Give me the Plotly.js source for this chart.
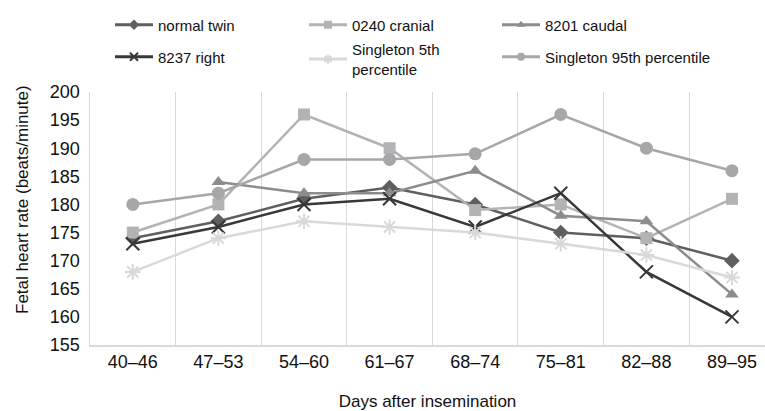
<!DOCTYPE html>
<html>
<head>
<meta charset="utf-8">
<script src="https://cdn.plot.ly/plotly-3.0.1.min.js"></script>
<style>
html,body{margin:0;padding:0;background:#fff;}
#chart{width:765px;height:411px;}
</style>
</head>
<body>
<div id="chart"></div>
<script>
// ---- data ----
const categories = ["40\u201346","47\u201353","54\u201360","61\u201367","68\u201374","75\u201381","82\u201388","89\u201395"];
const normalTwin   = [174, 177, 181, 183, 180, 175, 174, 170];
const cranial0240  = [175, 180, 196, 190, 179, 180, 174, 181];
const caudal8201   = [null, 184, 182, 182, 186, 178, 177, 164];
const right8237    = [173, 176, 180, 181, 176, 182, 168, 160];
const singleton5   = [168, 174, 177, 176, 175, 173, 171, 167];
const singleton95  = [180, 182, 188, 188, 189, 196, 190, 186];
const seriesNames  = ["normal twin", "0240 cranial", "8201 caudal", "8237 right", "Singleton 5th<br>percentile", "Singleton 95th percentile"];
const xTitle = "Days after insemination";
const yTitle = "Fetal heart rate (beats/minute)";

const xIdx = categories.map((_, i) => i);
const FONT = "Arial, 'Liberation Sans', sans-serif";

const styles = [
  {color: "#5f5f5f", symbol: "diamond",     size: 12, lsize: 8},
  {color: "#b3b3b5", symbol: "square",      size: 12, lsize: 8},
  {color: "#8c8c8e", symbol: "triangle-up", size: 12, lsize: 8},
  {color: "#383838", symbol: "x-thin",      size: 13, lsize: 8, mline: 2},
  {color: "#d9d9d9", symbol: "asterisk",    size: 13, lsize: 8, mline: 2},
  {color: "#a7a7a9", symbol: "circle",      size: 13, lsize: 8}
];
const seriesValues = [normalTwin, cranial0240, caudal8201, right8237, singleton5, singleton95];
const legendIds = ["legend", "legend2", "legend3", "legend4", "legend5", "legend6"];

function markerOf(s, size) {
  const m = {symbol: s.symbol, size: size, color: s.color};
  if (s.mline) m.line = {color: s.color, width: s.mline};
  return m;
}

const traces = [];
seriesValues.forEach((vals, k) => {
  const s = styles[k];
  traces.push({
    type: "scatter", mode: "lines+markers", name: seriesNames[k],
    x: xIdx, y: vals, connectgaps: false,
    line: {color: s.color, width: 2.5},
    marker: markerOf(s, s.size),
    showlegend: false
  });
});
// legend entries (smaller symbols, as in the reference key)
seriesValues.forEach((vals, k) => {
  const s = styles[k];
  traces.push({
    type: "scatter", mode: "lines+markers", name: seriesNames[k],
    x: [null], y: [null],
    line: {color: s.color, width: 3},
    marker: markerOf(s, s.lsize),
    legend: legendIds[k], showlegend: true, hoverinfo: "skip"
  });
});

// plot area in pixels: left 90, top 92, width 675, height 253
function leg(xpx, ypx) {
  return {
    xref: "paper", yref: "paper",
    x: (xpx - 90) / 675, y: (345 - ypx) / 253,
    xanchor: "left", yanchor: "middle",
    font: {family: FONT, size: 15, color: "#111"},
    itemwidth: 38, bgcolor: "rgba(0,0,0,0)", borderwidth: 0
  };
}

const layout = {
  width: 765, height: 411,
  margin: {l: 90, r: 0, t: 92, b: 66, autoexpand: false},
  paper_bgcolor: "#fff", plot_bgcolor: "#fff",
  font: {family: FONT, color: "#111"},
  showlegend: true,
  legend:  leg(110, 25),
  legend2: leg(304, 25),
  legend3: leg(497, 25),
  legend4: leg(110, 57),
  legend5: leg(304, 59),
  legend6: leg(497, 57),
  annotations: [{
    text: yTitle, textangle: -90, showarrow: false,
    xref: "paper", yref: "paper",
    x: (22 - 90) / 675, y: (345 - 200) / 253,
    xanchor: "center", yanchor: "middle",
    font: {family: FONT, size: 17, color: "#111"}
  }],
  xaxis: {
    range: [-0.5, 7.386],
    tickmode: "array", tickvals: xIdx, ticktext: categories,
    showgrid: false, zeroline: false,
    showline: true, linecolor: "#d9d9d9", linewidth: 1.5,
    ticks: "",
    tickfont: {family: FONT, size: 18, color: "#111"},
    minor: {tickmode: "array", tickvals: categories.map((_, i) => i - 0.5), showgrid: true, gridcolor: "#d9d9d9", gridwidth: 1, ticks: ""},
    title: {text: xTitle, font: {family: FONT, size: 17, color: "#111"}},
    automargin: false, fixedrange: true
  },
  yaxis: {
    range: [155, 200], dtick: 5, tick0: 155,
    showgrid: false, zeroline: false,
    showline: true, linecolor: "#d9d9d9", linewidth: 1.5,
    ticks: "outside", ticklen: 5, tickcolor: "rgba(0,0,0,0)",
    tickfont: {family: FONT, size: 18, color: "#111"},
    automargin: false, fixedrange: true
  }
};

Plotly.newPlot("chart", traces, layout, {displayModeBar: false, staticPlot: true});
</script>
</body>
</html>
